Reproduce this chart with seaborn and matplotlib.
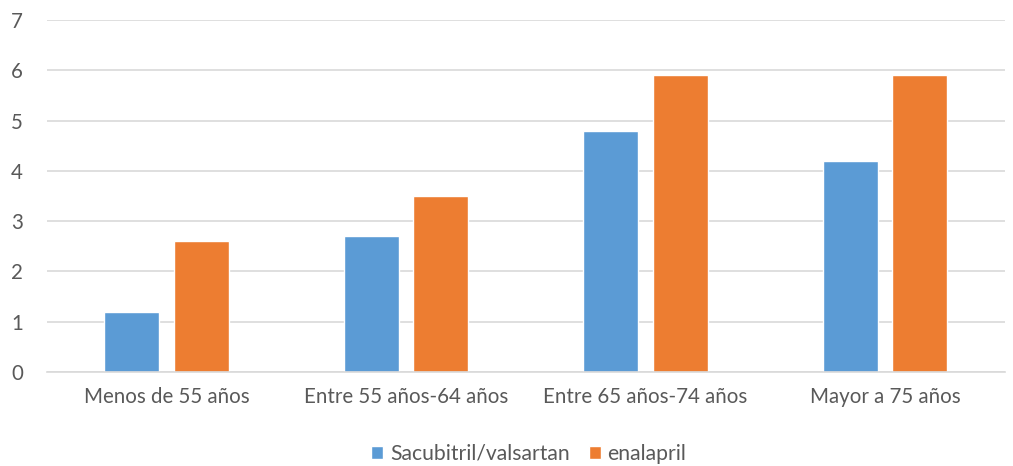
import pandas as pd
import matplotlib
matplotlib.use("Agg")
import matplotlib.pyplot as plt
import seaborn as sns

categories = ["Menos de 55 años", "Entre 55 años-64 años", "Entre 65 años-74 años", "Mayor a 75 años"]
series_names = ["Sacubitril/valsartan", "enalapril"]
sacubitril = [1.2, 2.7, 4.8, 4.2]
enalapril = [2.6, 3.5, 5.9, 5.9]

df = pd.DataFrame({
    "Grupo": categories * 2,
    "Serie": [series_names[0]] * 4 + [series_names[1]] * 4,
    "Valor": sacubitril + enalapril,
})

sns.set_theme(style="white")
plt.rcParams["font.family"] = ["Lato", "DejaVu Sans"]
text_color = "#595959"

fig = plt.figure(figsize=(10.13, 4.66), dpi=100)
ax = fig.add_axes([0.046, 0.2017, 0.946, 0.7553])

sns.barplot(data=df, x="Grupo", y="Valor", hue="Serie", order=categories,
            hue_order=series_names, palette=["#5B9BD5", "#ED7D31"],
            width=0.58, gap=0.21, saturation=1, ax=ax, legend=True)

ax.set_ylim(0, 7)
ax.set_xlim(-0.5, 3.5)
ax.set_yticks(range(0, 8))
ax.yaxis.grid(True, color="#D9D9D9", linewidth=1.2)
ax.set_axisbelow(True)
for s in ["top", "right", "left"]:
    ax.spines[s].set_visible(False)
ax.spines["bottom"].set_color("#D9D9D9")
ax.spines["bottom"].set_linewidth(1.2)
ax.tick_params(axis="both", length=0, labelsize=14.8, colors=text_color)
ax.tick_params(axis="x", pad=11)
ax.tick_params(axis="y", pad=17)
ax.set_xlabel("")
ax.set_ylabel("")

handles, labels = ax.get_legend_handles_labels()
ax.legend(handles, labels, loc="center", bbox_to_anchor=(0.503, -0.232), ncol=2,
          frameon=False, fontsize=15.2, labelcolor=text_color, handlelength=0.6,
          handleheight=0.6, handletextpad=0.3, columnspacing=0.9)

fig.savefig("out.png", dpi=100)
